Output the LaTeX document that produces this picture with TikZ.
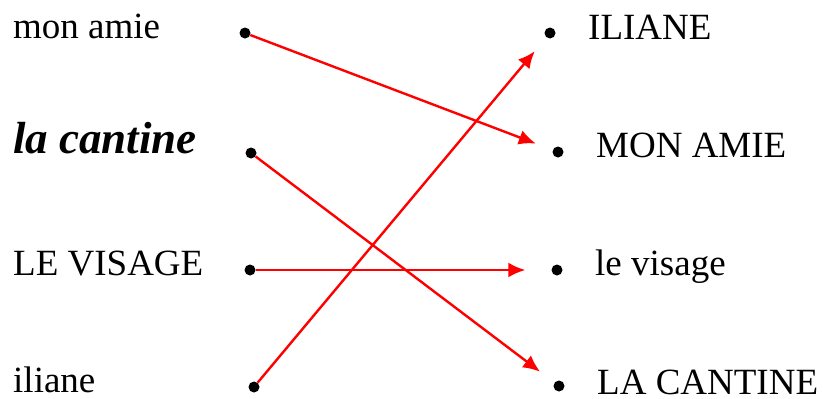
\documentclass[tikz,border=0pt]{standalone}
\usepackage{fontspec}
\setmainfont{Liberation Serif}
\usepackage{tikz}
\usetikzlibrary{arrows.meta}

\begin{document}
\begin{tikzpicture}[
    x=1pt, y=-1pt,
    word/.style={anchor=base west, inner sep=0pt, font=\fontsize{37}{40}\selectfont},
    fancy/.style={anchor=base west, inner sep=0pt, font=\fontsize{45}{48}\selectfont\bfseries\itshape},
    dot/.style={circle, fill=black, inner sep=0pt, minimum size=11pt},
    arrow/.style={-{Latex[length=17pt,width=15pt]}, red, line width=2.4pt, shorten >=18pt}
]
\useasboundingbox (0,0) rectangle (823,399);

% left column
\node[word] (monamie) at (13,38) {mon amie};
\node[fancy] (cantine) at (13,153) {la cantine};
\node[word] (visage) at (13,275) {LE VISAGE};
\node[word] (iliane) at (13,392) {iliane};

\node[dot] (l1) at (245,33) {};
\node[dot] (l2) at (251,153) {};
\node[dot] (l3) at (250,270) {};
\node[dot] (l4) at (254,387) {};

% right column
\node[word] (ILIANE) at (588,39) {ILIANE};
\node[word] (MONAMIE) at (596,157) {MON AMIE};
\node[word] (levisage) at (595,275) {le visage};
\node[word] (LACANTINE) at (597,394) {LA CANTINE};

\node[dot] (r1) at (550,33) {};
\node[dot] (r2) at (558,152) {};
\node[dot] (r3) at (557,270) {};
\node[dot] (r4) at (559,386) {};

\draw[arrow] (l1) -- (r2);
\draw[arrow] (l2) -- (r4);
\draw[arrow, shorten >=26pt] (l3) -- (r3);
\draw[arrow] (l4) -- (r1);
\end{tikzpicture}
\end{document}
